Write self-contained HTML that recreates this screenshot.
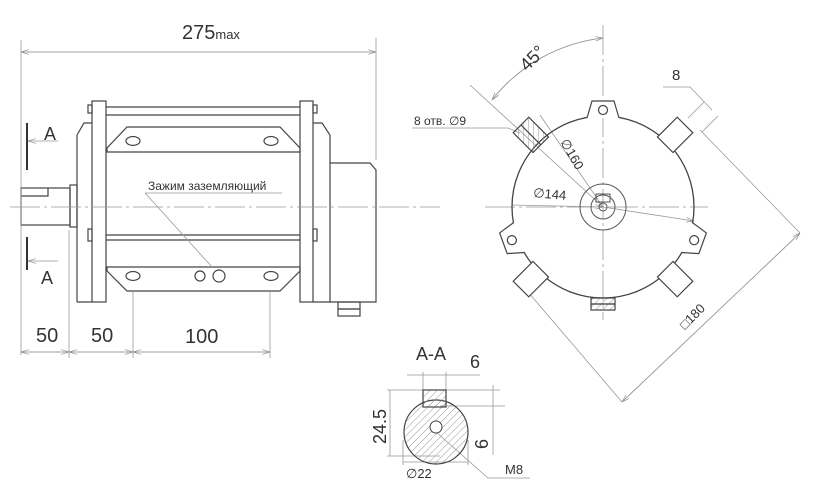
<!DOCTYPE html>
<html><head><meta charset="utf-8"><style>
html,body{margin:0;padding:0;background:#fff;}
svg{display:block;}
text{font-family:"Liberation Sans",sans-serif;fill:#333;}
</style></head><body>
<svg width="816" height="500" viewBox="0 0 816 500" xmlns="http://www.w3.org/2000/svg">
<defs>
<pattern id="h" width="5" height="5" patternUnits="userSpaceOnUse" patternTransform="rotate(45)"><line x1="0" y1="0" x2="0" y2="5" stroke="#999" stroke-width="1"/></pattern>
<marker id="ar" markerWidth="10" markerHeight="6" refX="10" refY="3" orient="auto"><path d="M0,0 L10,3 L0,6" fill="none" stroke="#888" stroke-width="0.8"/></marker>
</defs>
<g stroke="#444" stroke-width="1.2" fill="none">
<rect x="21" y="188" width="49" height="37"/>
<path d="M21,196 H48 V188"/>
<rect x="70" y="185" width="7" height="42"/>
<path d="M77,302 V135 L84,123 H92 M92,302 H77"/>
<rect x="92" y="101" width="14" height="201"/>
<rect x="300" y="101" width="13" height="201"/>
<rect x="88" y="105" width="4" height="8"/><rect x="88" y="229" width="4" height="12"/>
<rect x="313" y="105" width="4" height="8"/><rect x="313" y="229" width="4" height="12"/>
<path d="M106,107 H300 M106,115 H300 M106,235 H300 M106,240 H300"/>
<path d="M127,127 H280 L300,148 V152 H107 V148 Z"/>
<path d="M107,267 H300 V271 L280,291 H127 L107,271 Z"/>
<ellipse cx="133" cy="141" rx="7" ry="4.5"/><ellipse cx="271" cy="141" rx="7" ry="4.5"/>
<ellipse cx="133" cy="276" rx="7" ry="4.5"/><ellipse cx="271" cy="276" rx="7" ry="4.5"/>
<circle cx="200" cy="276" r="5"/><circle cx="219" cy="276" r="6"/>
<path d="M313,123 H322 L330,135 V302 H313"/>
<path d="M330,163 H370 L376,170 V302 H330"/>
<rect x="338" y="302" width="22" height="7"/><rect x="338" y="309" width="22" height="7"/>
</g>
<g stroke="#999" stroke-width="0.8" fill="none">
<path d="M10,207 H440" stroke-dasharray="30,4,3,4"/>
<path d="M21,40 V355 M376,38 V160 M69,230 V358 M133,292 V358 M270,292 V358"/>
<path d="M21,52 H376" marker-end="url(#ar)"/><path d="M376,52 H21" marker-end="url(#ar)"/>
<path d="M21,352 H69" marker-end="url(#ar)"/><path d="M69,352 H21" marker-end="url(#ar)"/>
<path d="M69,352 H133" marker-end="url(#ar)"/><path d="M133,352 H69" marker-end="url(#ar)"/>
<path d="M133,352 H270" marker-end="url(#ar)"/><path d="M270,352 H133" marker-end="url(#ar)"/>
<path d="M58,141 H28" marker-end="url(#ar)"/><path d="M58,261 H28" marker-end="url(#ar)"/>
<path d="M145,193 H282 M145,193 L213,268"/>
</g>
<path d="M27,123 V170 M27,237 V270" stroke="#333" stroke-width="2"/>
<text x="182" y="39" font-size="20">275<tspan font-size="13">max</tspan></text>
<text x="36" y="342" font-size="20">50</text>
<text x="91" y="342" font-size="20">50</text>
<text x="185" y="343" font-size="20">100</text>
<text x="44" y="140" font-size="18">A</text>
<text x="41" y="284" font-size="18">A</text>
<text x="148" y="190" font-size="12">Зажим заземляющий</text>

<g stroke="#999" stroke-width="0.8" fill="none">
<path d="M603,25 V320" stroke-dasharray="30,4,3,4"/>
<path d="M485,207 H708" stroke-dasharray="30,4,3,4"/>
<path d="M603,38 A165,165 0 0 0 492,100" marker-end="url(#ar)"/>
<path d="M492,100 A165,165 0 0 1 603,38" marker-end="url(#ar)"/>
<path d="M470,85 L603,207 M540,115 L603,207"/>
<path d="M412,128 H508 L520,133"/>
<path d="M512,205 L603,207" marker-end="url(#ar)"/>
<path d="M603,207 L694,221" marker-end="url(#ar)"/>
<path d="M663,87 H690 L712,110 M688,118 L704,102 M702,132 L718,116 M700,130 L800,233"/>
<path d="M800,233 L622,402" marker-end="url(#ar)"/><path d="M622,402 L800,233" marker-end="url(#ar)"/>
<path d="M522,285 L622,402"/>
</g>
<circle cx="603" cy="207" r="91" stroke="#444" stroke-width="1.3" fill="none"/>
<circle cx="603" cy="207" r="23" stroke="#555" stroke-width="1" fill="none"/>
<circle cx="603" cy="207" r="12" stroke="#555" stroke-width="1" fill="none"/>
<rect x="596" y="194" width="14" height="8" stroke="#555" fill="none"/>
<circle cx="603" cy="207" r="4" stroke="#555" fill="none"/>
<g stroke="#444" stroke-width="1.2" fill="#fff">
<g transform="translate(603,207) rotate(0)"><path d="M-16,-89 L-11,-106 H11 L16,-89"/><circle cx="0" cy="-97" r="4.5"/></g>
<g transform="translate(603,207) rotate(-110)"><path d="M-16,-89 L-11,-106 H11 L16,-89"/><circle cx="0" cy="-97" r="4.5"/></g>
<g transform="translate(603,207) rotate(110)"><path d="M-16,-89 L-11,-106 H11 L16,-89"/><circle cx="0" cy="-97" r="4.5"/></g>
<g transform="translate(603,207) rotate(-45)"><rect x="-11" y="-116" width="22" height="28" fill="url(#h)"/><line x1="0" y1="-116" x2="0" y2="-88"/></g>
<g transform="translate(603,207) rotate(45)"><rect x="-11" y="-116" width="22" height="28"/></g>
<g transform="translate(603,207) rotate(-135)"><rect x="-11" y="-116" width="22" height="28"/></g>
<g transform="translate(603,207) rotate(135)"><rect x="-11" y="-116" width="22" height="28"/></g>
<rect x="591" y="298" width="24" height="6" fill="url(#h)"/><rect x="591" y="304" width="24" height="6" fill="url(#h)"/>
</g>
<text x="0" y="0" font-size="18" transform="translate(527,72) rotate(-45)">45°</text>
<text x="414" y="125" font-size="12">8 отв. ∅9</text>
<text x="0" y="0" font-size="13" transform="translate(560,142) rotate(60)">∅160</text>
<text x="0" y="0" font-size="13" transform="translate(533,197) rotate(5)">∅144</text>
<text x="672" y="80" font-size="15">8</text>
<text x="0" y="0" font-size="13" transform="translate(685,330) rotate(-45)">□180</text>

<text x="416" y="360" font-size="18">A-A</text>
<text x="470" y="368" font-size="18">6</text>
<g stroke="#999" stroke-width="0.8" fill="none">
<path d="M407,375 H480 M423,372 V390 M446,372 V390"/>
<path d="M387,390 H500 M440,406 H505 M387,456 H440 M493,385 V455"/>
<path d="M403,440 V465 M468,440 V465 M403,462 H468"/>
<path d="M390,390 V456"/>
<path d="M436,432 L488,478 H530"/>
</g>
<circle cx="436" cy="432" r="32" stroke="#444" stroke-width="1.2" fill="url(#h)"/>
<rect x="423" y="390" width="23" height="17" stroke="#444" stroke-width="1.2" fill="url(#h)"/>
<circle cx="436" cy="427" r="6" stroke="#444" fill="#fff"/>
<text x="0" y="0" font-size="18" transform="translate(386,444) rotate(-90)">24.5</text>
<text x="0" y="0" font-size="18" transform="translate(488,449) rotate(-90)">6</text>
<text x="406" y="478" font-size="13">∅22</text>
<text x="505" y="474" font-size="13">M8</text>
</svg>
</body></html>
